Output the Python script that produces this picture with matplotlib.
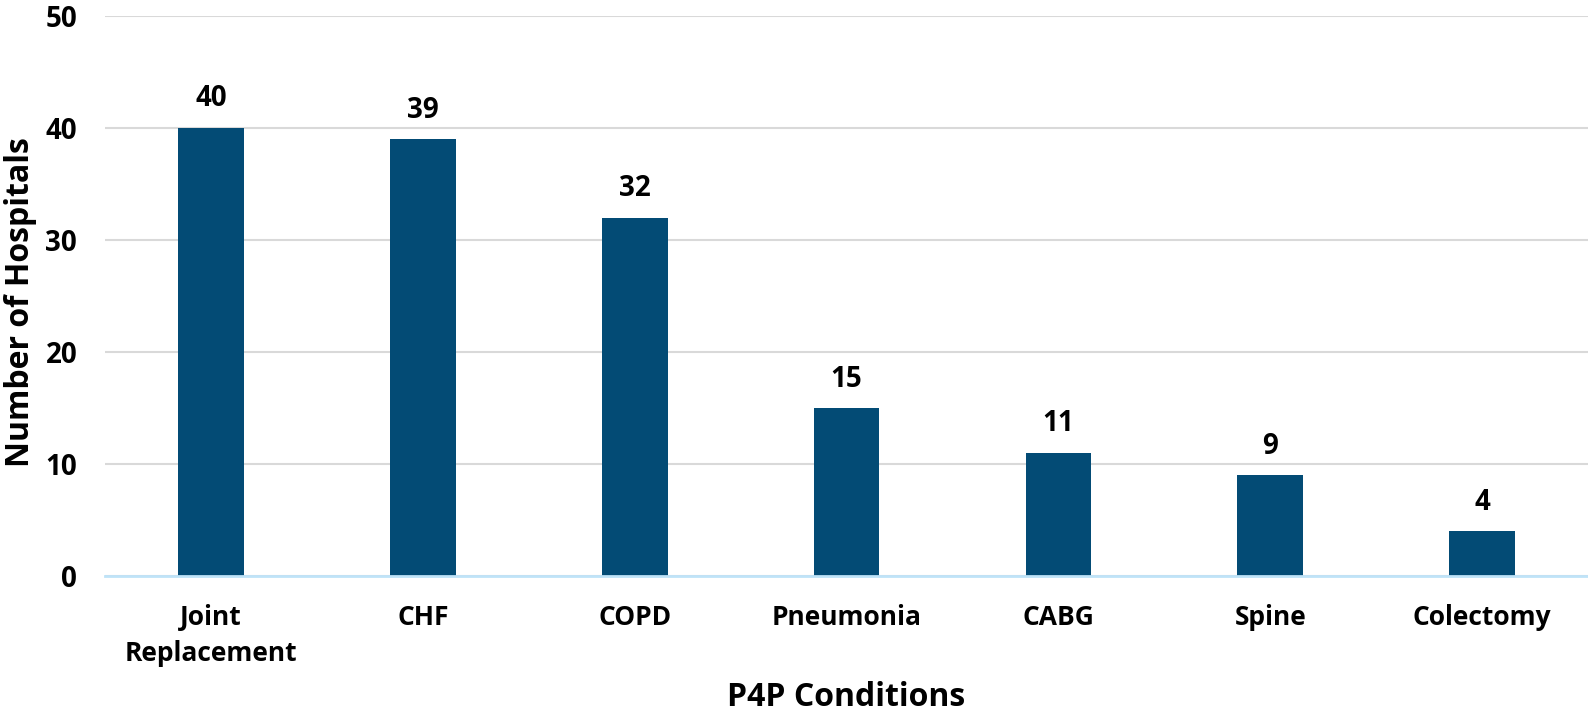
import matplotlib.pyplot as plt
import numpy as np

plt.rcParams['font.family'] = ['Open Sans', 'DejaVu Sans']
plt.rcParams['font.weight'] = 'bold'

# Hospitals participating per P4P condition
conditions = ["Joint\nReplacement", "CHF", "COPD", "Pneumonia", "CABG", "Spine", "Colectomy"]
hospitals = [40, 39, 32, 15, 11, 9, 4]

fig = plt.figure(figsize=(15.88, 7.13), dpi=100)
ax = fig.add_axes([0.0661, 0.192, 0.934, 0.7856])

x = np.arange(len(conditions))
bars = ax.bar(x, hospitals, width=0.31, color="#034b75", zorder=3)

for xi, v in zip(x, hospitals):
    ax.text(xi, v + 1.3, str(v), ha="center", va="bottom", fontsize=20, fontweight="bold")

ax.set_xlim(-0.5, len(conditions) - 0.5)
ax.set_ylim(0, 50)
ax.set_yticks(range(0, 51, 10))
ax.set_xticks(x)
ax.set_xticklabels(conditions, fontsize=19, fontweight="bold", linespacing=1.45)
ax.tick_params(axis="y", labelsize=20, length=0, pad=20)
ax.tick_params(axis="x", length=0, pad=20)

ax.grid(axis="y", color="#d9d9d9", linewidth=1.5, zorder=0)
for side in ["top", "right", "left"]:
    ax.spines[side].set_visible(False)
ax.spines["bottom"].set_color("#bfe3f8")
ax.spines["bottom"].set_linewidth(2)
ax.spines["bottom"].set_zorder(4)

ax.set_xlabel("P4P Conditions", fontsize=23, fontweight="bold", labelpad=10)
ax.set_ylabel("Number of Hospitals", fontsize=23, fontweight="bold")
ax.yaxis.set_label_coords(-0.046, 0.49)

fig.savefig("out.png", dpi=100)
